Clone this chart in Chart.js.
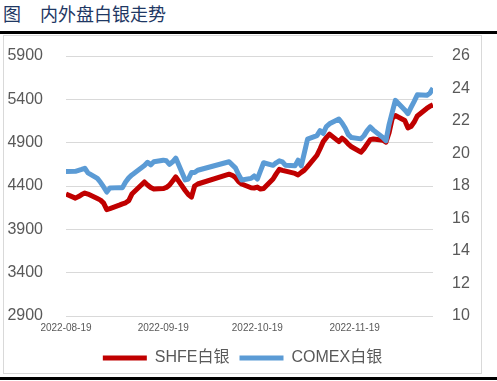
<!DOCTYPE html>
<html>
<head>
<meta charset="utf-8">
<script src="https://cdn.jsdelivr.net/npm/chart.js@4.4.0/dist/chart.umd.min.js"></script>
<style>
  html, body { margin: 0; padding: 0; background: #fff; }
  body { width: 497px; height: 381px; position: relative; overflow: hidden; }
  #title { position: absolute; left: 3px; top: 4px; font: 18px/18px "Noto Sans CJK SC", sans-serif; color: #1f3864; white-space: nowrap; }
  #title span.t { margin-left: 19px; }
  .rule { position: absolute; left: 0; width: 497px; height: 3px; background: #000; }
  #frame { position: absolute; left: 3px; top: 35px; width: 479px; height: 339px; border: 1px solid #d9d9d9; box-sizing: border-box; }
  #wrap { position: absolute; left: 4px; top: 36px; width: 477px; height: 340px; }
</style>
</head>
<body>
<div id="title"><span>图</span><span class="t">内外盘白银走势</span></div>
<div class="rule" style="top:31px"></div>
<div id="frame"></div>
<div class="rule" style="top:377px"></div>
<div id="wrap"><canvas id="c"></canvas></div>
<script>
const dates = [
  '2022-08-19','2022-08-22','2022-08-23','2022-08-24','2022-08-25','2022-08-26','2022-08-29','2022-08-30','2022-08-31',
  '2022-09-01','2022-09-02','2022-09-05','2022-09-06','2022-09-07','2022-09-08','2022-09-09','2022-09-13','2022-09-14',
  '2022-09-15','2022-09-16','2022-09-19','2022-09-20','2022-09-21','2022-09-22','2022-09-23','2022-09-26','2022-09-27',
  '2022-09-28','2022-09-29','2022-09-30','2022-10-10','2022-10-11','2022-10-12','2022-10-13','2022-10-14','2022-10-17',
  '2022-10-18','2022-10-19','2022-10-20','2022-10-21','2022-10-24','2022-10-25','2022-10-26','2022-10-27','2022-10-28',
  '2022-10-31','2022-11-01','2022-11-02','2022-11-03','2022-11-04','2022-11-07','2022-11-08','2022-11-09','2022-11-10',
  '2022-11-11','2022-11-14','2022-11-15','2022-11-16','2022-11-17','2022-11-18','2022-11-21','2022-11-22','2022-11-23',
  '2022-11-24','2022-11-25','2022-11-28','2022-11-29','2022-11-30','2022-12-01','2022-12-02','2022-12-05','2022-12-06',
  '2022-12-07','2022-12-08','2022-12-09','2022-12-12','2022-12-13','2022-12-14'
];
const shfeSilver = [
  4307,4260,4278,4301,4319,4307,4255,4237,4202,
  4127,4138,4179,4194,4206,4231,4307,4447,4412,
  4383,4365,4371,4383,4412,4458,4505,4348,4301,
  4272,4400,4423,4536,4524,4499,4452,4423,4380,
  4377,4388,4365,4371,4481,4540,4592,4580,4571,
  4545,4528,4557,4583,4624,4755,4830,4912,4958,
  4999,4912,4952,4923,4883,4853,4790,4830,4883,
  4935,4943,4929,4906,5016,5179,5214,5156,5071,
  5086,5138,5208,5295,5319,5336
];
const comexSilver = [
  18.89,18.90,18.96,19.02,19.09,18.81,18.47,18.23,17.94,
  17.63,17.88,17.90,17.90,18.25,18.50,18.68,19.26,19.46,
  19.30,19.49,19.59,19.55,19.33,19.49,19.72,18.37,18.43,
  18.83,18.83,18.97,19.49,19.30,19.12,18.71,18.37,18.47,
  18.62,18.43,18.93,19.43,19.27,19.43,19.55,19.49,19.27,
  19.24,19.59,19.24,20.05,20.88,21.10,21.41,21.23,21.66,
  21.83,22.12,21.88,21.57,21.16,20.98,20.90,21.10,21.41,
  21.63,21.44,20.98,20.79,21.78,22.53,23.27,22.68,22.45,
  22.84,23.21,23.61,23.58,23.71,24.02
];
const seriesNames = ['SHFE白银', 'COMEX白银'];
const xTickLabels = ['2022-08-19','2022-09-19','2022-10-19','2022-11-19'];
const leftTicks = { min: 2900, max: 5900, step: 500 };
const rightTicks = { min: 10, max: 26, step: 2 };

const DAY = 86400000;
const t0 = Date.parse(dates[0]);
const dayOf = d => Math.round((Date.parse(d) - t0) / DAY);
const xMax = dayOf(dates[dates.length - 1]);

const fontFam = '"Liberation Sans", "Noto Sans CJK SC", sans-serif';
const grey = '#595959';

new Chart(document.getElementById('c'), {
  type: 'line',
  data: {
    datasets: [
      {
        label: seriesNames[0],
        data: dates.map((d, i) => ({ x: dayOf(d), y: shfeSilver[i] })),
        borderColor: '#C00000', backgroundColor: '#C00000',
        borderWidth: 5, pointRadius: 0, tension: 0, yAxisID: 'y', order: 1,
        borderJoinStyle: 'round'
      },
      {
        label: seriesNames[1],
        data: dates.map((d, i) => ({ x: dayOf(d), y: comexSilver[i] })),
        borderColor: '#5B9BD5', backgroundColor: '#5B9BD5',
        borderWidth: 5, pointRadius: 0, tension: 0, yAxisID: 'y1', order: 0,
        borderJoinStyle: 'round'
      }
    ]
  },
  options: {
    responsive: true,
    maintainAspectRatio: false,
    animation: false,
    layout: { padding: { top: 20, bottom: 0, left: 0, right: 0 } },
    plugins: {
      tooltip: { enabled: false },
      legend: {
        position: 'bottom',
        labels: {
          usePointStyle: true,
          pointStyle: 'line',
          pointStyleWidth: 44,
          padding: 10,
          color: grey,
          font: { size: 16, family: fontFam },
          sort: (a, b) => a.datasetIndex - b.datasetIndex
        }
      }
    },
    scales: {
      x: {
        type: 'linear',
        min: 0,
        max: xMax,
        grid: { display: false, drawTicks: false },
        border: { display: false },
        afterBuildTicks: s => { s.ticks = xTickLabels.map(l => ({ value: dayOf(l) })); },
        afterFit: s => { s.height = 24; },
        ticks: {
          autoSkip: false, maxRotation: 0, minRotation: 0, padding: 6,
          color: grey, font: { size: 10, family: fontFam },
          callback: v => { const i = xTickLabels.findIndex(l => dayOf(l) === v); return i >= 0 ? xTickLabels[i] : ''; }
        }
      },
      y: {
        position: 'left',
        min: leftTicks.min, max: leftTicks.max,
        grid: { color: '#d9d9d9', lineWidth: 1, drawTicks: false },
        border: { display: false },
        afterFit: s => { s.width = 62; s.paddingTop = 10; s.paddingBottom = 10; },
        ticks: { stepSize: leftTicks.step, padding: 23, color: grey, font: { size: 16, family: fontFam }, callback: v => String(v) }
      },
      y1: {
        position: 'right',
        min: rightTicks.min, max: rightTicks.max,
        grid: { display: false, drawTicks: false },
        border: { display: false },
        afterFit: s => { s.width = 48; s.paddingTop = 10; s.paddingBottom = 10; },
        ticks: { stepSize: rightTicks.step, padding: 19, color: grey, font: { size: 16, family: fontFam }, callback: v => String(v) }
      }
    }
  }
});
</script>
</body>
</html>
